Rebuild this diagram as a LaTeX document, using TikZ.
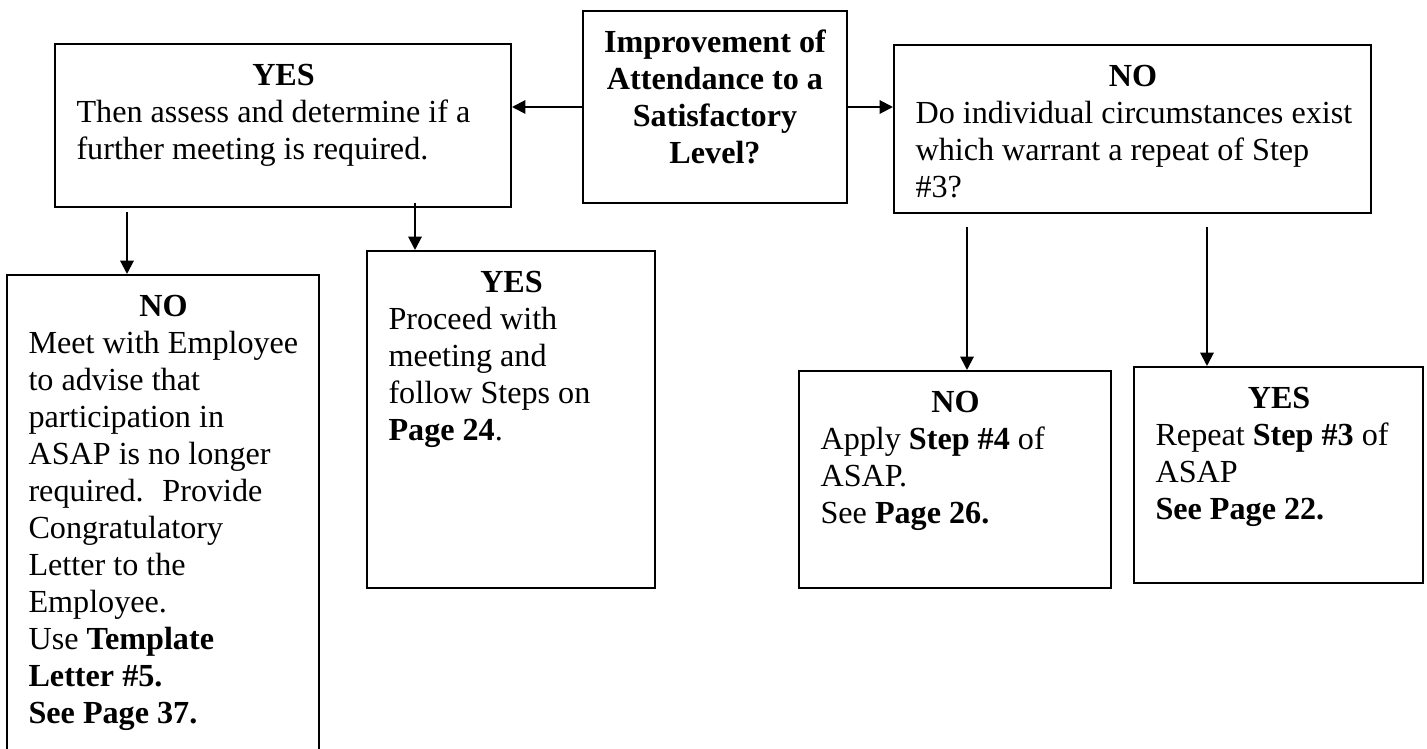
\documentclass[tikz,border=0pt]{standalone}
\usepackage{fontspec}
\setmainfont{Liberation Serif}
\usetikzlibrary{arrows.meta,fit}
\begin{document}
\begin{tikzpicture}[x=0.3732pt,y=-0.3732pt,
  box/.style={draw,line width=0.75pt,inner sep=0pt,rectangle},
  txt/.style={anchor=north west,inner sep=0pt,align=left,font=\fontsize{12}{13.8}\selectfont},
  ctxt/.style={anchor=north,inner sep=0pt,align=center,font=\fontsize{12}{13.8}\selectfont\bfseries},
  arr/.style={line width=0.75pt,-{Triangle[length=5pt,width=5pt]}}]
\useasboundingbox (0,0) rectangle (1427,749);
\clip (0,0) rectangle (1427,749);
% boxes
\node[box,fit={(583,11) (847,203)}] (q) {};
\node[box,fit={(55,44) (511,207)}] (yes1) {};
\node[box,fit={(894,45) (1371,213)}] (no1) {};
\node[box,fit={(7,275) (319,770)}] (no2) {};
\node[box,fit={(367,251) (655,588)}] (yes2) {};
\node[box,fit={(799,371) (1111,588)}] (no3) {};
\node[box,fit={(1134,367) (1423,583)}] (yes3) {};
% texts
\node[ctxt] (qt) at (715,26) {\strut Improvement of\\Attendance to a\\Satisfactory\\Level?};
\node[txt] (yes1t) at (76,59) {\makebox[154.5pt][c]{\strut\textbf{YES}}\\Then assess and determine if a\\further meeting is required.};
\node[txt] (no1t) at (915,60) {\makebox[162.3pt][c]{\strut\textbf{NO}}\\Do individual circumstances exist\\which warrant a repeat of Step\\\#3?};
\node[txt] (no2t) at (28,290) {\makebox[100.8pt][c]{\strut\textbf{NO}}\\Meet with Employee\\to advise that\\participation in\\ASAP is no longer\\required.~ Provide\\Congratulatory\\Letter to the\\Employee.\\Use \textbf{Template}\\\textbf{Letter \#5.}\\\textbf{See Page 37.}};
\node[txt] (yes2t) at (388,266) {\makebox[91.8pt][c]{\strut\textbf{YES}}\\Proceed with\\meeting and\\follow Steps on\\\textbf{Page 24}.};
\node[txt] (no3t) at (820,386) {\makebox[100.8pt][c]{\strut\textbf{NO}}\\Apply \textbf{Step \#4} of\\ASAP.\\See \textbf{Page 26.}};
\node[txt] (yes3t) at (1155,382) {\makebox[92.2pt][c]{\strut\textbf{YES}}\\Repeat \textbf{Step \#3} of\\ASAP\\\textbf{See Page 22.}};
% connectors
\coordinate (s1) at (127,212);
\coordinate (s2) at (415,203);
\coordinate (s3) at (967,227);
\coordinate (s4) at (1207,227);
\draw[arr] (q.west) -- (q.west -| yes1.east);
\draw[arr] (q.east) -- (q.east -| no1.west);
\draw[arr] (s1) -- (s1 |- no2.north);
\draw[arr] (s2) -- (s2 |- yes2.north);
\draw[arr] (s3) -- (s3 |- no3.north);
\draw[arr] (s4) -- (s4 |- yes3.north);
\end{tikzpicture}
\end{document}
